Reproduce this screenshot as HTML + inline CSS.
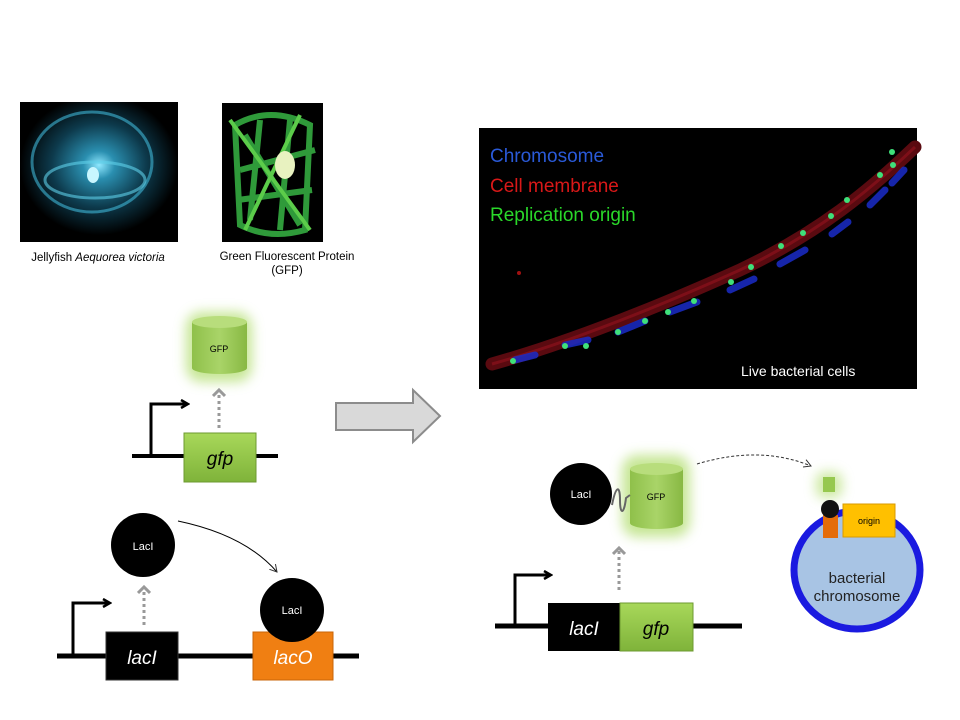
<!DOCTYPE html>
<html><head><meta charset="utf-8"><style>
html,body{margin:0;padding:0;background:#fff;}
svg{display:block;}
text{font-family:"Liberation Sans",sans-serif;}
</style></head><body>
<svg width="960" height="720" viewBox="0 0 960 720" xmlns="http://www.w3.org/2000/svg">
<defs>
<radialGradient id="jf" cx="0.5" cy="0.45" r="0.5">
<stop offset="0" stop-color="#8fe8ff"/><stop offset="0.2" stop-color="#2a8fb0"/><stop offset="0.6" stop-color="#0d3a4c"/><stop offset="1" stop-color="#000"/></radialGradient>
<filter id="glow" x="-50%" y="-50%" width="200%" height="200%"><feGaussianBlur stdDeviation="6"/></filter>
<linearGradient id="gr" x1="0" y1="0" x2="0" y2="1"><stop offset="0" stop-color="#a8d85a"/><stop offset="1" stop-color="#7fb33a"/></linearGradient>
<linearGradient id="cyl" x1="0" y1="0" x2="1" y2="0"><stop offset="0" stop-color="#8fc04a"/><stop offset="0.5" stop-color="#a9d468"/><stop offset="1" stop-color="#88b843"/></linearGradient>
<marker id="ah" markerWidth="10" markerHeight="10" refX="8" refY="5" orient="auto" markerUnits="userSpaceOnUse"><path d="M1,1 L8,5 L1,9" fill="none" stroke="#000" stroke-width="2.5"/></marker>
<marker id="ahg" markerWidth="12" markerHeight="14" refX="8" refY="7" orient="auto" markerUnits="userSpaceOnUse"><path d="M2,1 L8,7 L2,13" fill="none" stroke="#999" stroke-width="3"/></marker>
<marker id="aht" markerWidth="10" markerHeight="10" refX="8" refY="5" orient="auto" markerUnits="userSpaceOnUse"><path d="M1,1 L8,5 L1,9" fill="none" stroke="#333" stroke-width="1"/></marker>
</defs>

<!-- jellyfish -->
<rect x="20" y="102" width="158" height="140" fill="url(#jf)"/>
<ellipse cx="92" cy="162" rx="60" ry="50" fill="none" stroke="#3fb6d6" stroke-width="3" opacity="0.6"/>
<ellipse cx="95" cy="180" rx="50" ry="18" fill="none" stroke="#5fd0ea" stroke-width="3" opacity="0.6"/>
<ellipse cx="93" cy="175" rx="6" ry="8" fill="#c8f6ff"/>
<text x="98" y="261" font-size="11.5" text-anchor="middle">Jellyfish <tspan font-style="italic">Aequorea victoria</tspan></text>

<!-- GFP protein -->
<rect x="222" y="103" width="101" height="139" fill="#000"/>
<g fill="none" stroke="#2f9a3a" stroke-width="6">
<path d="M235,125 Q270,105 310,125 L305,230 Q270,240 240,225 Z"/>
<path d="M245,135 L300,225 M260,120 L250,220 M290,120 L280,230 M240,170 L315,150 M238,200 L312,190"/>
</g>
<g fill="none" stroke="#5ccc4a" stroke-width="4"><path d="M230,120 L310,230 M300,115 L245,230"/></g>
<ellipse cx="285" cy="165" rx="10" ry="14" fill="#e8f2c0"/>
<text x="287" y="260" font-size="11.5" text-anchor="middle">Green Fluorescent Protein</text>
<text x="287" y="274" font-size="11.5" text-anchor="middle">(GFP)</text>

<!-- micrograph -->
<rect x="479" y="128" width="438" height="261" fill="#000"/>
<path d="M492,364 C560,345 640,315 740,270 C820,232 870,190 915,147" fill="none" stroke="#5a0a10" stroke-width="13" stroke-linecap="round"/>
<path d="M492,364 C560,345 640,315 740,270 C820,232 870,190 915,147" fill="none" stroke="#a01420" stroke-width="3" opacity="0.5"/>
<g stroke="#1a2cc8" stroke-width="7" stroke-linecap="round" fill="none" opacity="0.85">
<path d="M515,360 L535,355"/><path d="M565,345 L588,340"/><path d="M618,332 L645,321"/><path d="M670,312 L697,302"/><path d="M730,290 L754,279"/><path d="M780,264 L805,250"/><path d="M832,234 L848,222"/><path d="M870,205 L885,190"/><path d="M892,183 L904,170"/>
</g>
<g fill="#3fe07a">
<circle cx="513" cy="361" r="3"/><circle cx="565" cy="346" r="3"/><circle cx="586" cy="346" r="3"/><circle cx="618" cy="332" r="3"/><circle cx="645" cy="321" r="3"/><circle cx="668" cy="312" r="3"/><circle cx="694" cy="301" r="3"/><circle cx="731" cy="282" r="3"/><circle cx="751" cy="267" r="3"/><circle cx="781" cy="246" r="3"/><circle cx="803" cy="233" r="3"/><circle cx="831" cy="216" r="3"/><circle cx="847" cy="200" r="3"/><circle cx="880" cy="175" r="3"/><circle cx="893" cy="165" r="3"/><circle cx="892" cy="152" r="3"/>
</g>
<circle cx="519" cy="273" r="2" fill="#a01010"/>
<text x="490" y="162" font-size="19" fill="#2a5ad8">Chromosome</text>
<text x="490" y="192" font-size="19" fill="#d81818">Cell membrane</text>
<text x="490" y="221" font-size="19" fill="#2ad82a">Replication origin</text>
<text x="741" y="376" font-size="14" fill="#fff">Live bacterial cells</text>

<!-- big arrow -->
<path d="M336,403 L413,403 L413,390 L440,416 L413,442 L413,430 L336,430 Z" fill="#d9d9d9" stroke="#8c8c8c" stroke-width="2"/>

<!-- top-left gfp construct -->
<rect x="186" y="312" width="66" height="70" rx="15" fill="#b8e07a" filter="url(#glow)" opacity="0.8"/>
<path d="M192,322 L192,368 A27.5,6 0 0 0 247,368 L247,322 Z" fill="url(#cyl)"/>
<ellipse cx="219.5" cy="322" rx="27.5" ry="6" fill="#b8dd7c"/>
<text x="219" y="352" font-size="9" text-anchor="middle">GFP</text>
<line x1="219" y1="428" x2="219" y2="390" stroke="#999" stroke-width="3" stroke-dasharray="3,3" marker-end="url(#ahg)"/>
<line x1="132" y1="456" x2="278" y2="456" stroke="#000" stroke-width="4"/>
<path d="M151,456 L151,404 L188,404" fill="none" stroke="#000" stroke-width="3" marker-end="url(#ah)"/>
<rect x="184" y="433" width="72" height="49" fill="url(#gr)" stroke="#6d9a30" stroke-width="1"/>
<text x="220" y="465" font-size="19" font-style="italic" text-anchor="middle">gfp</text>

<!-- bottom-left lacI construct -->
<line x1="57" y1="656" x2="359" y2="656" stroke="#000" stroke-width="5"/>
<path d="M73,656 L73,603 L110,603" fill="none" stroke="#000" stroke-width="3" marker-end="url(#ah)"/>
<rect x="106" y="632" width="72" height="48" fill="#000" stroke="#333"/>
<text x="142" y="664" font-size="19" font-style="italic" fill="#fff" text-anchor="middle">lacI</text>
<line x1="144" y1="625" x2="144" y2="587" stroke="#999" stroke-width="3" stroke-dasharray="3,3" marker-end="url(#ahg)"/>
<circle cx="143" cy="545" r="32" fill="#000"/>
<text x="143" y="550" font-size="11" fill="#fff" text-anchor="middle">LacI</text>
<path d="M178,521 Q245,535 277,572" fill="none" stroke="#000" stroke-width="1" marker-end="url(#aht)"/>
<rect x="253" y="632" width="80" height="48" fill="#f07f12" stroke="#c86408"/>
<text x="293" y="664" font-size="19" font-style="italic" fill="#fff" text-anchor="middle">lacO</text>
<circle cx="292" cy="610" r="32" fill="#000"/>
<text x="292" y="614" font-size="11" fill="#fff" text-anchor="middle">LacI</text>

<!-- right bottom fusion construct -->
<line x1="495" y1="626" x2="742" y2="626" stroke="#000" stroke-width="5"/>
<path d="M515,626 L515,575 L551,575" fill="none" stroke="#000" stroke-width="3" marker-end="url(#ah)"/>
<rect x="548" y="603" width="72" height="48" fill="#000"/>
<text x="584" y="635" font-size="19" font-style="italic" fill="#fff" text-anchor="middle">lacI</text>
<rect x="620" y="603" width="73" height="48" fill="url(#gr)" stroke="#6d9a30"/>
<text x="656" y="635" font-size="19" font-style="italic" text-anchor="middle">gfp</text>
<line x1="619" y1="590" x2="619" y2="548" stroke="#999" stroke-width="3" stroke-dasharray="3,3" marker-end="url(#ahg)"/>
<rect x="622" y="455" width="68" height="82" rx="15" fill="#b8e07a" filter="url(#glow)" opacity="0.8"/>
<path d="M630,469 L630,523 A26.5,6 0 0 0 683,523 L683,469 Z" fill="url(#cyl)"/>
<ellipse cx="656.5" cy="469" rx="26.5" ry="6" fill="#b8dd7c"/>
<text x="656" y="500" font-size="9" text-anchor="middle">GFP</text>
<path d="M612,505 C616,485 620,485 620,500 C620,515 624,515 626,498 L630,495" fill="none" stroke="#666" stroke-width="2"/>
<circle cx="581" cy="494" r="31" fill="#000"/>
<text x="581" y="498" font-size="11" fill="#fff" text-anchor="middle">LacI</text>
<path d="M697,464 Q760,445 811,466" fill="none" stroke="#333" stroke-width="1" stroke-dasharray="3,2" marker-end="url(#aht)"/>

<!-- chromosome -->
<ellipse cx="857" cy="570" rx="63" ry="59" fill="#a8c4e4" stroke="#1a1ae0" stroke-width="7"/>
<text x="857" y="583" font-size="15" text-anchor="middle" fill="#222">bacterial</text>
<text x="857" y="601" font-size="15" text-anchor="middle" fill="#222">chromosome</text>
<rect x="843" y="504" width="52" height="33" fill="#ffc000" stroke="#d89a00"/>
<text x="869" y="524" font-size="9" text-anchor="middle">origin</text>
<rect x="823" y="515" width="15" height="23" fill="#e46c0a"/>
<rect x="816" y="472" width="26" height="26" rx="8" fill="#b8e07a" filter="url(#glow)" opacity="0.7"/>
<rect x="823" y="477" width="12" height="15" fill="#96c84e"/>
<circle cx="830" cy="509" r="9" fill="#111"/>
</svg>
</body></html>
